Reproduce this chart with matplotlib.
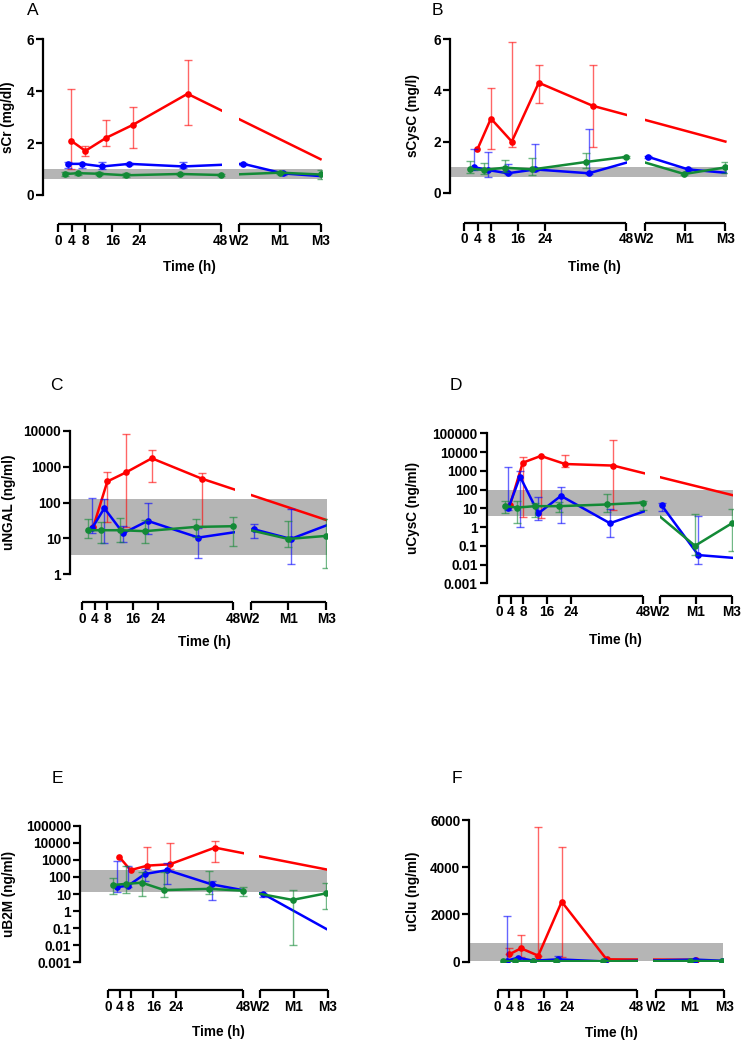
import numpy as np
import matplotlib
matplotlib.use('Agg')
import matplotlib.pyplot as plt
from matplotlib.path import Path
import matplotlib.transforms as mtransforms
from matplotlib.ticker import FixedLocator, NullLocator

plt.rcParams['font.family'] = ['Liberation Sans', 'DejaVu Sans']

nan = np.nan
W2, M1, M3 = 53.5, 65.5, 77.5
GAP = (48.4, 53.5)

left_ticks = [0, 4, 8, 16, 24, 48]
left_labels = ['0', '4', '8', '16', '24', '48']
right_ticks = [W2, M1, M3]
right_labels = ['W2', 'M1', 'M3']

# ---------------- Panel A : sCr ----------------
A_red_x = [3.7, 8.0, 14.1, 22.0, 38.2, M3]
A_red_y = [2.1, 1.7, 2.2, 2.7, 3.9, 1.38]
A_red_lo = [1.0, 1.52, 1.9, 1.8, 2.7, nan]
A_red_hi = [4.1, 1.9, 2.9, 3.4, 5.2, nan]
A_red_mk = [1, 1, 1, 1, 1, 0]
A_blue_x = [3.0, 6.9, 13.0, 21.0, 37.0, 54.7, 66.5, M3]
A_blue_y = [1.2, 1.2, 1.1, 1.2, 1.1, 1.2, 0.83, 0.73]
A_blue_lo = [1.03, 1.03, 1.0, 1.15, 1.05, 1.15, 0.78, nan]
A_blue_hi = [1.26, 1.25, 1.29, 1.25, 1.29, 1.25, 0.88, nan]
A_blue_mk = [1, 1, 1, 1, 1, 1, 1, 0]
A_green_x = [2.0, 5.9, 11.9, 20.0, 36.0, 48.0, M1, M3]
A_green_y = [0.81, 0.84, 0.82, 0.76, 0.81, 0.77, 0.86, 0.79]
A_green_lo = [0.73, 0.78, 0.76, 0.70, 0.76, 0.72, 0.80, 0.62]
A_green_hi = [0.88, 0.88, 0.88, 0.83, 0.86, 0.82, 0.92, 0.96]
A_green_mk = [1, 1, 1, 1, 1, 1, 1, 1]
A_band = (0.6, 1.0)

# ---------------- Panel B : sCysC ----------------
B_red_x = [3.9, 7.9, 14.1, 22.1, 38.1, M3]
B_red_y = [1.7, 2.9, 2.0, 4.3, 3.4, 2.0]
B_red_lo = [nan, 1.7, 1.8, 3.5, 1.8, nan]
B_red_hi = [nan, 4.1, 5.9, 5.0, 5.0, nan]
B_red_mk = [1, 1, 1, 1, 1, 0]
B_blue_x = [2.9, 6.9, 12.9, 21.0, 37.0, 54.4, 66.5, M3]
B_blue_y = [1.0, 0.89, 0.76, 0.91, 0.76, 1.41, 0.91, 0.78]
B_blue_lo = [0.9, 0.62, 0.72, 0.85, 0.72, 1.35, 0.85, nan]
B_blue_hi = [1.7, 1.58, 1.11, 1.89, 2.5, 1.45, 0.95, nan]
B_blue_mk = [1, 1, 1, 1, 1, 1, 1, 0]
B_green_x = [1.7, 5.95, 12.1, 20.2, 36.0, 48.0, 65.3, M3]
B_green_y = [0.93, 0.89, 0.98, 0.91, 1.2, 1.4, 0.73, 0.99]
B_green_lo = [0.76, 0.73, 0.82, 0.69, 0.95, 1.35, 0.70, 0.77]
B_green_hi = [1.25, 1.15, 1.28, 1.37, 1.57, 1.45, 0.78, 1.20]
B_green_mk = [1, 1, 1, 1, 1, 1, 1, 1]
B_band = (0.6, 1.0)

# ---------------- Panel C : uNGAL ----------------
C_red_x = [3.5, 7.95, 13.9, 22.1, 37.9, M3]
C_red_y = [21, 390, 700, 1730, 470, 33]
C_red_lo = [nan, 29, 21, 385, 21, nan]
C_red_hi = [nan, 730, 8500, 2950, 690, nan]
C_red_mk = [1, 1, 1, 1, 1, 0]
C_blue_x = [3.2, 7.0, 13.0, 20.8, 36.9, 54.6, 66.3, M3]
C_blue_y = [20, 70, 14, 31, 10.6, 18, 9.7, 23]
C_blue_lo = [14.5, 7.6, 8.1, 13, 2.8, 10, 2.0, nan]
C_blue_hi = [132, 124, 22, 96, 19, 26, 65, nan]
C_blue_mk = [1, 1, 1, 1, 1, 1, 1, 0]
C_green_x = [1.9, 5.9, 12.0, 19.9, 36.0, 48.0, M1, M3]
C_green_y = [17, 17, 17, 16, 21, 22, 9.7, 11.8]
C_green_lo = [10, 7.6, 8.1, 7.6, 11, 6.2, 5.9, 1.5]
C_green_hi = [36, 29, 37, 33, 35, 39, 31.5, 35]
C_green_mk = [1, 1, 1, 1, 1, 1, 1, 1]
C_band = (3.5, 130)

# ---------------- Panel D : uCysC ----------------
D_red_x = [3.66, 7.9, 13.9, 22.0, 38.0, M3]
D_red_y = [15, 2700, 6200, 2300, 1900, 51]
D_red_lo = [nan, 3.3, 3.0, 1500, 8, nan]
D_red_hi = [nan, 5600, 6200, 7200, 44000, nan]
D_red_mk = [1, 1, 1, 1, 1, 0]
D_blue_x = [3.1, 7.0, 13.1, 20.6, 36.9, 54.1, 66.3, M3]
D_blue_y = [10, 490, 5.4, 46, 1.6, 14.5, 0.032, 0.023]
D_blue_lo = [8, 1.0, 2.4, 1.6, 0.28, 7, 0.011, nan]
D_blue_hi = [1500, 1000, 42, 145, 9, 20, 4, nan]
D_blue_mk = [1, 1, 1, 1, 1, 1, 1, 0]
D_green_x = [2.0, 6.1, 12.0, 20.0, 35.8, 48.0, 65.2, M3]
D_green_y = [13, 11, 13, 13, 16, 20, 0.1, 1.6]
D_green_lo = [5.9, 1.7, 3.3, 6, 6, 8, 0.032, 0.052]
D_green_hi = [26, 25, 20, 22, 56, 26, 5, 9]
D_green_mk = [1, 1, 1, 1, 1, 1, 1, 1]
D_band = (4, 95)

# ---------------- Panel E : uB2M ----------------
E_red_x = [3.8, 7.9, 13.9, 21.9, 37.9, M3]
E_red_y = [1550, 250, 460, 550, 5200, 275]
E_red_lo = [nan, nan, 300, 300, 780, nan]
E_red_hi = [nan, nan, 5400, 10000, 12600, nan]
E_red_mk = [1, 1, 1, 1, 1, 0]
E_blue_x = [3.0, 7.1, 13.0, 21.0, 36.7, 55.1, M3]
E_blue_y = [25, 31, 148, 250, 37, 10, 0.09]
E_blue_lo = [12.6, 25, 60, 40, 4.4, 6.5, nan]
E_blue_hi = [890, 460, 300, 680, 58, 12, nan]
E_blue_mk = [1, 1, 1, 1, 1, 1, 0]
E_green_x = [1.8, 6.2, 11.9, 19.9, 35.9, 48.0, M1, M3]
E_green_y = [34, 39, 46, 17, 20, 15.6, 4.5, 11]
E_green_lo = [9.6, 12, 8, 7, 10, 8, 0.01, 1.25]
E_green_hi = [83, 420, 187, 200, 235, 26, 17, 42]
E_green_mk = [1, 1, 1, 1, 1, 1, 1, 1]
E_band = (14, 250)

# ---------------- Panel F : uClu ----------------
F_red_x = [4.0, 8.05, 14.0, 22.1, 37.6, 68.5]
F_red_y = [313, 567, 254, 2540, 100, 80]
F_red_lo = [313, 212, 254, 212, nan, nan]
F_red_hi = [593, 1130, 5720, 4870, nan, nan]
F_red_mk = [1, 1, 1, 1, 1, 1]
F_blue_x = [3.1, 7.0, 12.3, 20.8, 37.0, 68.0, M3]
F_blue_y = [40, 170, 40, 100, 10, 90, 40]
F_blue_lo = [40, nan, nan, 100, nan, nan, nan]
F_blue_hi = [1920, nan, nan, 240, nan, nan, nan]
F_blue_mk = [1, 1, 1, 1, 1, 1, 1]
F_green_x = [2.0, 6.0, 12.1, 20.1, 36.5, 66.4, M3]
F_green_y = [15, 20, 20, 20, 20, 30, 25]
F_green_lo = [nan] * 7
F_green_hi = [nan] * 7
F_green_mk = [1, 1, 1, 1, 1, 1, 1]
F_band = (30, 800)

lin_ticks = [0, 2, 4, 6]
lin_labels = ['0', '2', '4', '6']
logC_ticks = [1, 10, 100, 1000, 10000]
logC_labels = ['1', '10', '100', '1000', '10000']
logDE_ticks = [0.001, 0.01, 0.1, 1, 10, 100, 1000, 10000, 100000]
logDE_labels = ['0.001', '0.01', '0.1', '1', '10', '100', '1000', '10000', '100000']
F_ticks = [0, 2000, 4000, 6000]
F_labels = ['0', '2000', '4000', '6000']

COLORS = {'red': '#ff0000', 'blue': '#0000ff', 'green': '#138a36'}
ZORD = {'red': 3, 'blue': 4, 'green': 5}


def series(prefix):
    g = globals()
    out = []
    for name in ['red', 'blue', 'green']:
        out.append((name,
                    np.array(g[f'{prefix}_{name}_x'], float),
                    np.array(g[f'{prefix}_{name}_y'], float),
                    np.array(g[f'{prefix}_{name}_lo'], float),
                    np.array(g[f'{prefix}_{name}_hi'], float),
                    np.array(g[f'{prefix}_{name}_mk'], bool)))
    return out


panels = [
    dict(key='A', ylabel='sCr (mg/dl)', scale='linear', ylim=(0, 6), yt=lin_ticks, yl=lin_labels,
         band=A_band, spine=43.3, px0=58.3, px48=220.7, ytop=39.3, ybot=195.0, xaxis=224.0,
         letter=(27, 15), ylab_x=8.3, time_y=266.7),
    dict(key='B', ylabel='sCysC (mg/l)', scale='linear', ylim=(0, 6), yt=lin_ticks, yl=lin_labels,
         band=B_band, spine=450.0, px0=464.3, px48=626.0, ytop=39.3, ybot=192.7, xaxis=222.7,
         letter=(432, 15), ylab_x=413.3, time_y=266.7),
    dict(key='C', ylabel='uNGAL (ng/ml)', scale='log', ylim=(1, 10000), yt=logC_ticks, yl=logC_labels,
         band=C_band, spine=70.0, px0=82.3, px48=233.3, ytop=431.0, ybot=574.3, xaxis=602.3,
         letter=(50, 390), ylab_x=9.3, time_y=642.3),
    dict(key='D', ylabel='uCysC (ng/ml)', scale='log', ylim=(0.001, 100000), yt=logDE_ticks, yl=logDE_labels,
         band=D_band, spine=486.7, px0=499.0, px48=643.3, ytop=433.3, ybot=583.3, xaxis=595.7,
         letter=(450, 390), ylab_x=413.3, time_y=640.0),
    dict(key='E', ylabel='uB2M (ng/ml)', scale='log', ylim=(0.001, 100000), yt=logDE_ticks, yl=logDE_labels,
         band=E_band, spine=80.0, px0=108.3, px48=243.3, ytop=825.7, ybot=962.3, xaxis=990.0,
         letter=(52, 783), ylab_x=9.3, time_y=1031.7, w2px=260.0, m3px=327.7),
    dict(key='F', ylabel='uClu (ng/ml)', scale='linear', ylim=(0, 6000), yt=F_ticks, yl=F_labels,
         band=F_band, spine=469.3, px0=497.7, px48=636.7, ytop=820.0, ybot=961.7, xaxis=990.0,
         letter=(452, 783), ylab_x=413.3, time_y=1033.3, w2px=655.7, m3px=724.3),
]

FW, FH = 741, 1043
fig = plt.figure(figsize=(FW / 100, FH / 100), dpi=100)
FS = 9.8


def fx(px):
    return px / FW


def fy(py):
    return 1 - py / FH


def time_axis(x0px, x1px, yline, lim, ticks, labels, brk):
    tax = fig.add_axes([fx(x0px), fy(yline), (x1px - x0px) / FW, 8 / FH])
    tax.set_xlim(*lim)
    tax.patch.set_alpha(0)
    for sp in ['top', 'left', 'right']:
        tax.spines[sp].set_visible(False)
    tax.spines['bottom'].set_linewidth(1.6)
    tax.spines['bottom'].set_capstyle('butt')
    tax.set_yticks([])
    tax.xaxis.set_major_locator(FixedLocator(ticks))
    tax.set_xticklabels(labels, fontsize=FS, fontweight='bold')
    tax.set_xticks([brk], minor=True)
    tax.tick_params(axis='x', which='major', length=5.5, width=1.6, direction='out', pad=1.5)
    tax.tick_params(axis='x', which='minor', length=4.5, width=1.6, direction='in')
    return tax


for p in panels:
    s = (p['px48'] - p['px0']) / 48.0
    xl = -(p['px0'] - p['spine']) / s
    xr = M3 + 0.4
    left = p['spine']
    right = p['px0'] + xr * s
    ax = fig.add_axes([fx(left), fy(p['ybot']), (right - left) / FW, (p['ybot'] - p['ytop']) / FH])
    ax.set_yscale(p['scale'])
    ax.set_xlim(xl, xr)
    ax.set_ylim(*p['ylim'])
    ax.patch.set_alpha(0)
    for sp in ['top', 'right', 'bottom']:
        ax.spines[sp].set_visible(False)
    ax.spines['left'].set_linewidth(1.6)
    ax.set_xticks([])
    ax.yaxis.set_major_locator(FixedLocator(p['yt']))
    ax.yaxis.set_minor_locator(NullLocator())
    ax.set_yticklabels(p['yl'], fontsize=FS, fontweight='bold')
    ax.tick_params(axis='y', length=5, width=1.6, pad=1.5)
    ax.axhspan(p['band'][0], p['band'][1], color='#b5b5b5', lw=0, zorder=1)

    trans = mtransforms.blended_transform_factory(ax.transData, ax.transAxes)
    r1 = Path([(xl - 10, -1), (GAP[0], -1), (GAP[0], 2), (xl - 10, 2), (xl - 10, -1)], closed=True)
    r2 = Path([(GAP[1], -1), (xr + 10, -1), (xr + 10, 2), (GAP[1], 2), (GAP[1], -1)], closed=True)
    clip = Path.make_compound_path(r1, r2)

    for name, x, y, lo, hi, mk in series(p['key']):
        c = COLORS[name]
        z = ZORD[name]
        ln, = ax.plot(x, y, color=c, lw=1.8, zorder=z, solid_joinstyle='round')
        ln.set_clip_path(clip, trans)
        m = np.isfinite(lo) & np.isfinite(hi)
        if m.any():
            yerr = np.vstack([y[m] - lo[m], hi[m] - y[m]])
            ax.errorbar(x[m], y[m], yerr=yerr, fmt='none', ecolor=c, alpha=0.6,
                        elinewidth=1.0, capsize=2.6, capthick=1.0, zorder=z - 0.5)
        ax.plot(x[mk], y[mk], 'o', color=c, ms=4.8, mew=0, zorder=z + 0.2)

    # broken time axis
    pxW2 = p.get('w2px', p['px0'] + W2 * s)
    pxM3 = p.get('m3px', p['px0'] + M3 * s)
    time_axis(p['px0'], p['px48'], p['xaxis'], (0, 48), left_ticks, left_labels, 48)
    time_axis(pxW2, pxM3, p['xaxis'], (W2, M3), right_ticks, right_labels, W2)

    fig.text(fx((p['px0'] + pxM3) / 2), fy(p['time_y']), 'Time (h)', ha='center', va='center',
             fontsize=FS, fontweight='bold')
    fig.text(fx(p['ylab_x']), fy((p['ytop'] + p['ybot']) / 2), p['ylabel'], rotation=90,
             ha='center', va='center', fontsize=FS, fontweight='bold')
    fig.text(fx(p['letter'][0]), fy(p['letter'][1]), p['key'], ha='left', va='baseline', fontsize=12.5)

fig.savefig('out.png', dpi=100)
